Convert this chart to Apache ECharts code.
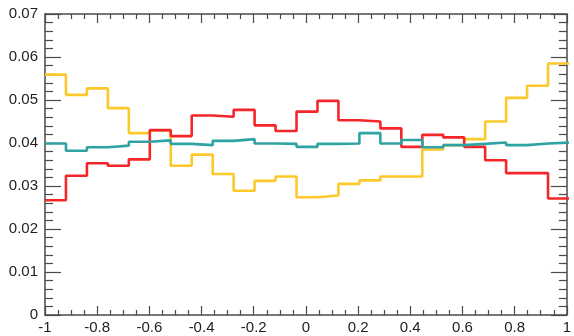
<!DOCTYPE html>
<html>
<head>
<meta charset="utf-8">
<script src="https://cdn.jsdelivr.net/npm/echarts@6/dist/echarts.min.js"></script>
<style>
  html, body { margin: 0; padding: 0; background: #fff; }
  #chart { width: 574px; height: 336px; }
</style>
</head>
<body>
<div id="chart"></div>
<script>
// Histogram binning: 25 equal bins over [-1, 1]
const xMin = -1;
const xMax = 1;
const nBins = 25;

// Bin contents per histogram
const yellowCounts = [0.0559, 0.0512, 0.0527, 0.0481, 0.0423, 0.0429, 0.0347, 0.0373, 0.0328, 0.0289,
                      0.0312, 0.0322, 0.0274, 0.0278, 0.0305, 0.0313, 0.0322, 0.0322, 0.0385, 0.0395,
                      0.0409, 0.0450, 0.0505, 0.0533, 0.0585];
const redCounts    = [0.0267, 0.0324, 0.0353, 0.0347, 0.0362, 0.0430, 0.0416, 0.0464, 0.0461, 0.0477,
                      0.0441, 0.0428, 0.0473, 0.0498, 0.0453, 0.0450, 0.0434, 0.0391, 0.0419, 0.0413,
                      0.0391, 0.0360, 0.0330, 0.0330, 0.0271];
const tealCounts   = [0.0399, 0.0382, 0.0390, 0.0394, 0.0403, 0.0406, 0.0398, 0.0395, 0.0405, 0.0409,
                      0.0399, 0.0398, 0.0391, 0.0398, 0.0399, 0.0423, 0.0399, 0.0407, 0.0390, 0.0395,
                      0.0398, 0.0401, 0.0395, 0.0399, 0.0401];

// Axis ranges and tick steps
const yMin = 0;
const yMax = 0.07;
const xStep = 0.2;
const yStep = 0.01;

// Turn bin contents into step-line points: one point per bin low edge,
// plus the last upper edge so the final bin spans its full width.
function stepPoints(counts) {
  const w = (xMax - xMin) / nBins;
  const pts = counts.map((v, i) => [xMin + i * w, v]);
  pts.push([xMax, counts[counts.length - 1]]);
  return pts;
}

const frameColor = '#4a4a4a';
const labelFont = { color: '#222', fontSize: 15, fontFamily: 'Liberation Sans, Arial, sans-serif' };
const plotRect = { left: 45, right: 5, top: 14, bottom: 21 };

// Frame axes (grid 0): ticks point into the plot on all four sides
function xAxisDef(position, showLabels) {
  return {
    gridIndex: 0, type: 'value', position: position, min: xMin, max: xMax, interval: xStep,
    splitLine: { show: false },
    axisLine: { onZero: false, lineStyle: { color: frameColor, width: 1.5 } },
    axisTick: { show: true, inside: true, length: 9, lineStyle: { color: frameColor, width: 1.2 } },
    minorTick: { show: true, splitNumber: 4, length: 5, lineStyle: { color: frameColor, width: 1.2 } },
    axisLabel: showLabels ? Object.assign({ margin: 5 }, labelFont) : { show: false }
  };
}

function yAxisDef(position, showLabels) {
  return {
    gridIndex: 0, type: 'value', position: position, min: yMin, max: yMax, interval: yStep,
    splitLine: { show: false },
    axisLine: { show: true, onZero: false, lineStyle: { color: frameColor, width: 1.5 } },
    axisTick: { show: true, inside: true, length: 16, lineStyle: { color: frameColor, width: 1.2 } },
    minorTick: { show: true, splitNumber: 5, length: 8, lineStyle: { color: frameColor, width: 1.2 } },
    axisLabel: showLabels ? Object.assign({ margin: 7 }, labelFont) : { show: false }
  };
}

// Plotting axes (grid 1): same scales, drawn invisibly under the frame
const hiddenX = { gridIndex: 1, type: 'value', min: xMin, max: xMax, show: false, splitLine: { show: false } };
const hiddenY = { gridIndex: 1, type: 'value', min: yMin, max: yMax, show: false, splitLine: { show: false } };

function histSeries(counts, color) {
  return {
    type: 'line', step: 'end', xAxisIndex: 2, yAxisIndex: 2,
    data: stepPoints(counts), showSymbol: false,
    lineStyle: { color: color, width: 2.6 }
  };
}

const chart = echarts.init(document.getElementById('chart'));
chart.setOption({
  animation: false,
  grid: [Object.assign({}, plotRect), Object.assign({}, plotRect)],
  xAxis: [xAxisDef('bottom', true), xAxisDef('top', false), hiddenX],
  yAxis: [yAxisDef('left', true), yAxisDef('right', false), hiddenY],
  series: [
    histSeries(yellowCounts, '#fdc92a'),
    histSeries(redCounts, '#f5262a'),
    histSeries(tealCounts, '#2ea3a3')
  ]
});
</script>
</body>
</html>
